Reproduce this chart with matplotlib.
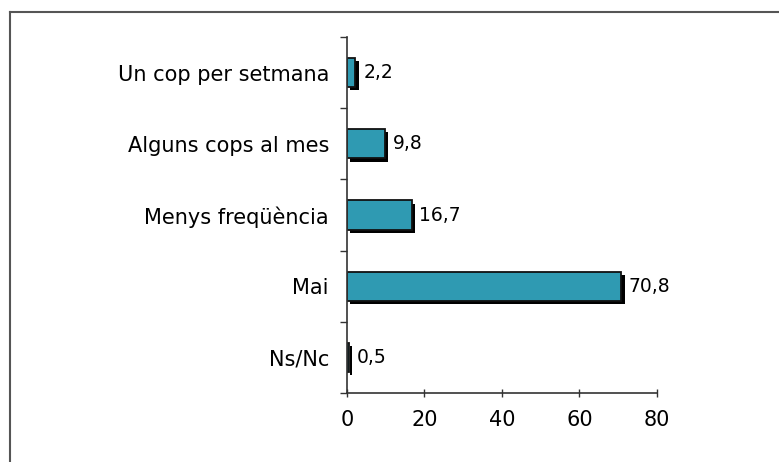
import matplotlib.pyplot as plt
import matplotlib.patheffects as pe
from matplotlib.lines import Line2D
import numpy as np

categories = ['Un cop per setmana', 'Alguns cops al mes', 'Menys freqüència', 'Mai', 'Ns/Nc']
values = [2.2, 9.8, 16.7, 70.8, 0.5]
value_labels = ['2,2', '9,8', '16,7', '70,8', '0,5']
xticks = [0, 20, 40, 60, 80]

plt.rcParams['font.family'] = ['DejaVu Sans']

fig = plt.figure(figsize=(7.79, 4.62), dpi=100)
ax = fig.add_axes([0.4454, 0.149, 0.3980, 0.771])

y = np.arange(len(categories))
shadow = [pe.SimplePatchShadow(offset=(2.3, -2.3), shadow_rgbFace='black', alpha=1.0), pe.Normal()]
bars = ax.barh(y, values, height=0.41, color='#2f9ab2', edgecolor='#111111', linewidth=1.3)
for b in bars:
    b.set_path_effects(shadow)

for yi, v, lab in zip(y, values, value_labels):
    ax.annotate(lab, (v, yi), xytext=(5.5, 0), textcoords='offset points',
                va='center', ha='left', fontsize=13.5)

ax.set_ylim(len(categories) - 0.5, -0.5)
ax.set_xlim(0, 80)
ax.set_xticks(xticks)
ax.set_xticklabels([str(t) for t in xticks], fontsize=15)
ax.tick_params(axis='x', direction='inout', length=6, width=1, pad=9, color='#333333')

ax.set_yticks(y)
ax.set_yticklabels(categories, fontsize=15)
ax.set_yticks(np.arange(len(categories) + 1) - 0.5, minor=True)
ax.tick_params(axis='y', which='major', length=0, pad=13)
ax.tick_params(axis='y', which='minor', direction='out', length=5, width=1, color='#333333')

for s in ['top', 'right']:
    ax.spines[s].set_visible(False)
for s in ['left', 'bottom']:
    ax.spines[s].set_color('#333333')
    ax.spines[s].set_linewidth(1.2)

# outer frame (top and left edges)
fig.add_artist(Line2D([10 / 779, 1], [1 - 12 / 462, 1 - 12 / 462], transform=fig.transFigure, color='#555555', lw=1.5))
fig.add_artist(Line2D([10 / 779, 10 / 779], [0, 1 - 12 / 462], transform=fig.transFigure, color='#555555', lw=1.5))

fig.savefig('out.png', dpi=100)
